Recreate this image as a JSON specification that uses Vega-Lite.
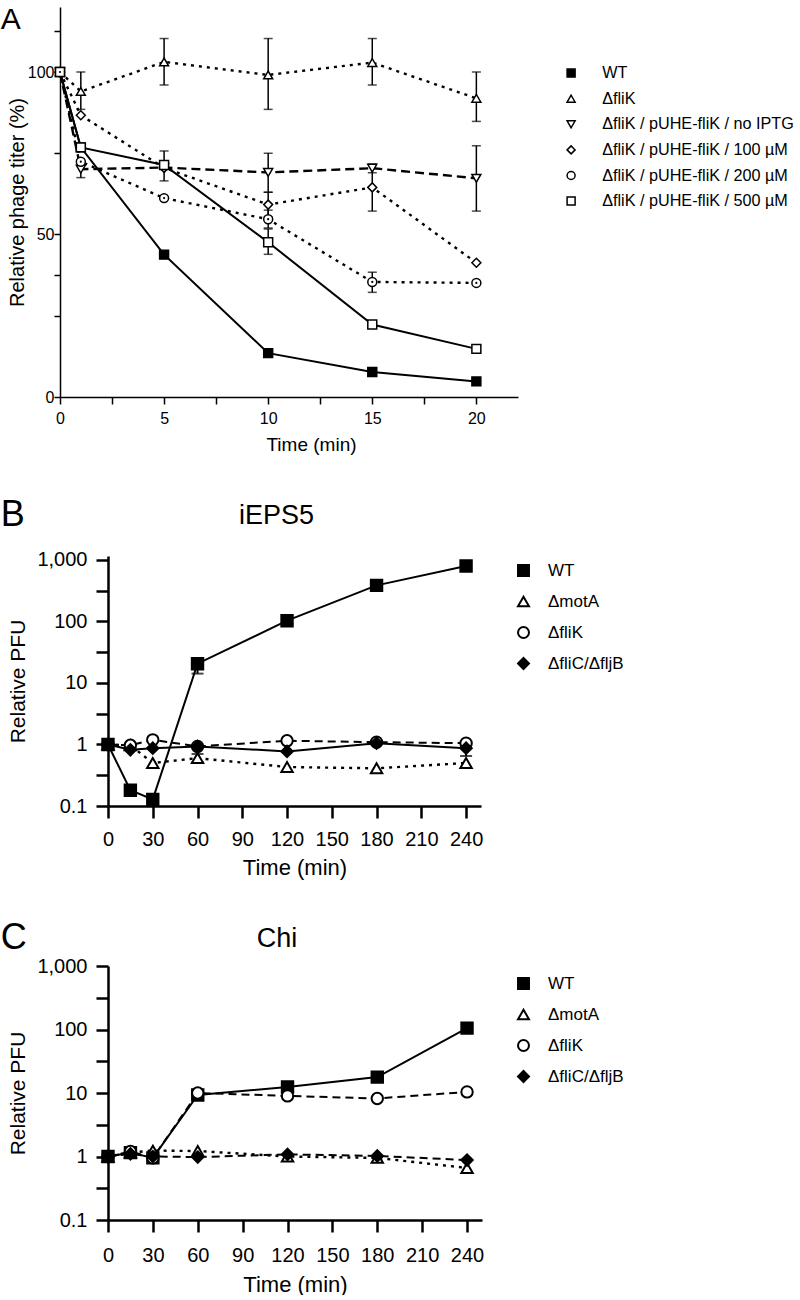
{
  "$schema": "https://vega.github.io/schema/vega-lite/v6.json",
  "padding": {"left": 0, "top": 4, "right": 250, "bottom": 0},
  "spacing": 42,
  "config": {
    "font": "Liberation Sans",
    "view": {"stroke": null},
    "axis": {"grid": false, "domainColor": "#000", "tickColor": "#000", "labelColor": "#000", "titleColor": "#000", "titleFontWeight": "normal", "labelOverlap": false, "labelFlush": false},
    "legend": {"padding": 0, "labelColor": "#000"},
    "title": {"fontWeight": "normal", "color": "#000"}
  },
  "resolve": {
    "scale": {"x": "independent", "y": "independent", "shape": "independent", "fill": "independent", "stroke": "independent"},
    "legend": {"shape": "independent", "fill": "independent", "stroke": "independent"}
  },
  "datasets": {
    "A": [
      {"s": "WT", "t": 0, "v": 100}, {"s": "WT", "t": 1, "v": 76.8}, {"s": "WT", "t": 5, "v": 43.8}, {"s": "WT", "t": 10, "v": 13.5}, {"s": "WT", "t": 15, "v": 7.7}, {"s": "WT", "t": 20, "v": 4.8},
      {"s": "ΔfliK", "t": 0, "v": 100}, {"s": "ΔfliK", "t": 1, "v": 94, "lo": 88.5, "hi": 100}, {"s": "ΔfliK", "t": 5, "v": 103.1, "lo": 96, "hi": 110.3}, {"s": "ΔfliK", "t": 10, "v": 99.1, "lo": 88.5, "hi": 110.3}, {"s": "ΔfliK", "t": 15, "v": 102.9, "lo": 96, "hi": 110.3}, {"s": "ΔfliK", "t": 20, "v": 91.9, "lo": 84.8, "hi": 100},
      {"s": "ΔfliK / pUHE-fliK / no IPTG", "t": 0, "v": 100}, {"s": "ΔfliK / pUHE-fliK / no IPTG", "t": 1, "v": 70.1, "lo": 67.5, "hi": 72.5}, {"s": "ΔfliK / pUHE-fliK / no IPTG", "t": 5, "v": 70.6, "lo": 66.5, "hi": 75.7}, {"s": "ΔfliK / pUHE-fliK / no IPTG", "t": 10, "v": 69.1, "lo": 63, "hi": 75}, {"s": "ΔfliK / pUHE-fliK / no IPTG", "t": 15, "v": 70.4, "lo": 69, "hi": 71.6}, {"s": "ΔfliK / pUHE-fliK / no IPTG", "t": 20, "v": 67.3, "lo": 57.2, "hi": 77.3},
      {"s": "ΔfliK / pUHE-fliK / 100 µM", "t": 0, "v": 100}, {"s": "ΔfliK / pUHE-fliK / 100 µM", "t": 1, "v": 86.7}, {"s": "ΔfliK / pUHE-fliK / 100 µM", "t": 5, "v": 70.5}, {"s": "ΔfliK / pUHE-fliK / 100 µM", "t": 10, "v": 59.2, "lo": 55.4, "hi": 63}, {"s": "ΔfliK / pUHE-fliK / 100 µM", "t": 15, "v": 64.5, "lo": 57.2, "hi": 71.6}, {"s": "ΔfliK / pUHE-fliK / 100 µM", "t": 20, "v": 41.3},
      {"s": "ΔfliK / pUHE-fliK / 200 µM", "t": 0, "v": 100}, {"s": "ΔfliK / pUHE-fliK / 200 µM", "t": 1, "v": 72.4}, {"s": "ΔfliK / pUHE-fliK / 200 µM", "t": 5, "v": 61.2}, {"s": "ΔfliK / pUHE-fliK / 200 µM", "t": 10, "v": 54.7, "lo": 52, "hi": 57.5}, {"s": "ΔfliK / pUHE-fliK / 200 µM", "t": 15, "v": 35.4, "lo": 32.2, "hi": 38.4}, {"s": "ΔfliK / pUHE-fliK / 200 µM", "t": 20, "v": 35.1},
      {"s": "ΔfliK / pUHE-fliK / 500 µM", "t": 0, "v": 100}, {"s": "ΔfliK / pUHE-fliK / 500 µM", "t": 1, "v": 76.8}, {"s": "ΔfliK / pUHE-fliK / 500 µM", "t": 5, "v": 71.4}, {"s": "ΔfliK / pUHE-fliK / 500 µM", "t": 10, "v": 47.6, "lo": 43.9, "hi": 51.7}, {"s": "ΔfliK / pUHE-fliK / 500 µM", "t": 15, "v": 22.3}, {"s": "ΔfliK / pUHE-fliK / 500 µM", "t": 20, "v": 14.8}
    ],
    "B": [
      {"s": "WT", "t": 0, "v": 1}, {"s": "WT", "t": 15, "v": 0.18}, {"s": "WT", "t": 30, "v": 0.128}, {"s": "WT", "t": 60, "v": 20.6, "lo": 14.2, "hi": 25}, {"s": "WT", "t": 120, "v": 103}, {"s": "WT", "t": 180, "v": 386, "lo": 340, "hi": 430}, {"s": "WT", "t": 240, "v": 800},
      {"s": "ΔmotA", "t": 0, "v": 1}, {"s": "ΔmotA", "t": 15, "v": 0.97}, {"s": "ΔmotA", "t": 30, "v": 0.5}, {"s": "ΔmotA", "t": 60, "v": 0.6, "lo": 0.52, "hi": 0.7}, {"s": "ΔmotA", "t": 120, "v": 0.43}, {"s": "ΔmotA", "t": 180, "v": 0.41}, {"s": "ΔmotA", "t": 240, "v": 0.5},
      {"s": "ΔfliK", "t": 0, "v": 1}, {"s": "ΔfliK", "t": 15, "v": 0.97}, {"s": "ΔfliK", "t": 30, "v": 1.19}, {"s": "ΔfliK", "t": 60, "v": 0.93}, {"s": "ΔfliK", "t": 120, "v": 1.15}, {"s": "ΔfliK", "t": 180, "v": 1.09}, {"s": "ΔfliK", "t": 240, "v": 1.05},
      {"s": "ΔfliC/ΔfljB", "t": 0, "v": 1}, {"s": "ΔfliC/ΔfljB", "t": 15, "v": 0.82}, {"s": "ΔfliC/ΔfljB", "t": 30, "v": 0.87}, {"s": "ΔfliC/ΔfljB", "t": 60, "v": 0.93}, {"s": "ΔfliC/ΔfljB", "t": 120, "v": 0.77}, {"s": "ΔfliC/ΔfljB", "t": 180, "v": 1.05}, {"s": "ΔfliC/ΔfljB", "t": 240, "v": 0.87, "lo": 0.65, "hi": 1.0}
    ],
    "C": [
      {"s": "WT", "t": 0, "v": 1}, {"s": "WT", "t": 15, "v": 1.15}, {"s": "WT", "t": 30, "v": 0.95}, {"s": "WT", "t": 60, "v": 9.3}, {"s": "WT", "t": 120, "v": 12.4}, {"s": "WT", "t": 180, "v": 17.8}, {"s": "WT", "t": 240, "v": 105},
      {"s": "ΔmotA", "t": 0, "v": 1}, {"s": "ΔmotA", "t": 15, "v": 1.15}, {"s": "ΔmotA", "t": 30, "v": 1.24}, {"s": "ΔmotA", "t": 60, "v": 1.22}, {"s": "ΔmotA", "t": 120, "v": 1.0}, {"s": "ΔmotA", "t": 180, "v": 0.95}, {"s": "ΔmotA", "t": 240, "v": 0.66},
      {"s": "ΔfliK", "t": 0, "v": 1}, {"s": "ΔfliK", "t": 15, "v": 1.2}, {"s": "ΔfliK", "t": 30, "v": 0.95}, {"s": "ΔfliK", "t": 60, "v": 10}, {"s": "ΔfliK", "t": 120, "v": 9.0}, {"s": "ΔfliK", "t": 180, "v": 8.2}, {"s": "ΔfliK", "t": 240, "v": 10.4},
      {"s": "ΔfliC/ΔfljB", "t": 0, "v": 1}, {"s": "ΔfliC/ΔfljB", "t": 15, "v": 1.1}, {"s": "ΔfliC/ΔfljB", "t": 30, "v": 1.0}, {"s": "ΔfliC/ΔfljB", "t": 60, "v": 0.98}, {"s": "ΔfliC/ΔfljB", "t": 120, "v": 1.08}, {"s": "ΔfliC/ΔfljB", "t": 180, "v": 1.02}, {"s": "ΔfliC/ΔfljB", "t": 240, "v": 0.88}
    ]
  },
  "vconcat": [
    {
      "title": {"text": "A", "anchor": "start", "frame": "bounds", "fontSize": 30, "offset": 0, "dy": 30},
      "spacing": 0,
      "resolve": {"scale": {"shape": "independent", "fill": "independent", "stroke": "independent"}, "legend": {"shape": "independent", "fill": "independent", "stroke": "independent"}},
      "hconcat": [
        {"width": 1, "height": 1, "data": {"values": [{"spacer": 1}]}, "mark": {"type": "point", "opacity": 0}},
        {
          "width": 458,
          "height": 390,
          "data": {"name": "A"},
          "encoding": {
            "x": {"field": "t", "type": "quantitative", "scale": {"domain": [0, 22], "nice": false},
              "axis": {"values": [0, 2.5, 5, 7.5, 10, 12.5, 15, 17.5, 20], "labelExpr": "datum.value % 5 === 0 ? datum.label : ''", "title": "Time (min)", "titleX": 251, "tickSize": 7, "labelFontSize": 16, "titleFontSize": 19, "labelPadding": 6, "titlePadding": 9, "domainWidth": 1.5, "tickWidth": 1.5}},
            "y": {"field": "v", "type": "quantitative", "scale": {"domain": [0, 120], "nice": false},
              "axis": {"values": [0, 25, 37.5, 50, 75, 100, 112.5], "labelExpr": "datum.value % 50 === 0 ? datum.label : ''", "title": "Relative phage titer (%)", "tickSize": 6, "labelFontSize": 16, "titleFontSize": 20, "labelPadding": 0, "titlePadding": 0, "domainWidth": 1.5, "tickWidth": 1.5}}
          },
          "layer": [
            {
              "transform": [{"filter": {"field": "s", "oneOf": ["WT", "ΔfliK / pUHE-fliK / 500 µM"]}}],
              "mark": {"type": "line", "color": "black", "strokeWidth": 2},
              "encoding": {"detail": {"field": "s", "type": "nominal"}}
            },
            {
              "transform": [{"filter": {"field": "s", "oneOf": ["ΔfliK", "ΔfliK / pUHE-fliK / 100 µM", "ΔfliK / pUHE-fliK / 200 µM"]}}],
              "mark": {"type": "line", "color": "black", "strokeWidth": 2.4, "strokeDash": [3, 5]},
              "encoding": {"detail": {"field": "s", "type": "nominal"}}
            },
            {
              "transform": [{"filter": {"field": "s", "oneOf": ["ΔfliK / pUHE-fliK / no IPTG"]}}],
              "mark": {"type": "line", "color": "black", "strokeWidth": 2.4, "strokeDash": [9, 5]},
              "encoding": {"detail": {"field": "s", "type": "nominal"}}
            },
            {
              "transform": [{"filter": "isValid(datum.lo)"}],
              "mark": {"type": "errorbar", "color": "black", "thickness": 1.5, "ticks": {"size": 9, "thickness": 1.5, "color": "black"}},
              "encoding": {
                "y": {"field": "lo", "type": "quantitative", "title": "Relative phage titer (%)"},
                "y2": {"field": "hi"}
              }
            },
            {
              "mark": {"type": "point", "filled": true, "opacity": 1, "strokeWidth": 1.5, "size": 80},
              "encoding": {
                "shape": {"field": "s", "type": "nominal",
                  "scale": {"domain": ["WT", "ΔfliK", "ΔfliK / pUHE-fliK / no IPTG", "ΔfliK / pUHE-fliK / 100 µM", "ΔfliK / pUHE-fliK / 200 µM", "ΔfliK / pUHE-fliK / 500 µM"],
                    "range": ["square", "triangle-up", "triangle-down", "diamond", "circle", "square"]},
                  "legend": {"title": null, "orient": "none", "legendX": 503, "legendY": 58, "labelFontSize": 16.2, "symbolSize": 64, "symbolStrokeWidth": 1.5, "rowPadding": 8.6, "labelOffset": 23, "labelLimit": 400,
                    "encode": {"symbols": {"stroke": {"value": "black"}, "strokeWidth": {"value": 1.5}}}}},
                "fill": {"field": "s", "type": "nominal",
                  "scale": {"domain": ["WT", "ΔfliK", "ΔfliK / pUHE-fliK / no IPTG", "ΔfliK / pUHE-fliK / 100 µM", "ΔfliK / pUHE-fliK / 200 µM", "ΔfliK / pUHE-fliK / 500 µM"],
                    "range": ["black", "white", "white", "white", "white", "white"]},
                  "legend": {"title": null, "orient": "none", "legendX": 503, "legendY": 58, "labelFontSize": 16.2, "symbolSize": 64, "symbolStrokeWidth": 1.5, "rowPadding": 8.6, "labelOffset": 23, "labelLimit": 400,
                    "encode": {"symbols": {"stroke": {"value": "black"}, "strokeWidth": {"value": 1.5}}}}},
                "stroke": {"field": "s", "type": "nominal",
                  "scale": {"domain": ["WT", "ΔfliK", "ΔfliK / pUHE-fliK / no IPTG", "ΔfliK / pUHE-fliK / 100 µM", "ΔfliK / pUHE-fliK / 200 µM", "ΔfliK / pUHE-fliK / 500 µM"],
                    "range": ["black", "black", "black", "black", "black", "black"]},
                  "legend": {"title": null, "orient": "none", "legendX": 503, "legendY": 58, "labelFontSize": 16.2, "symbolSize": 64, "symbolStrokeWidth": 1.5, "rowPadding": 8.6, "labelOffset": 23, "labelLimit": 400,
                    "encode": {"symbols": {"stroke": {"value": "black"}, "strokeWidth": {"value": 1.5}}}}}
              }
            },
            {
              "transform": [{"filter": "datum.s === 'ΔfliK / pUHE-fliK / 200 µM'"}],
              "mark": {"type": "point", "filled": true, "color": "black", "opacity": 1, "size": 5}
            }
          ]
        }
      ]
    },
    {
      "title": {"text": "B", "anchor": "start", "frame": "bounds", "fontSize": 36, "offset": 0, "dy": 32},
      "spacing": 0,
      "resolve": {"scale": {"shape": "independent", "fill": "independent", "stroke": "independent"}, "legend": {"shape": "independent", "fill": "independent", "stroke": "independent"}},
      "hconcat": [
        {"width": 1, "height": 1, "data": {"values": [{"spacer": 1}]}, "mark": {"type": "point", "opacity": 0}},
        {
          "title": {"text": "iEPS5", "fontSize": 27, "anchor": "middle", "frame": "group", "offset": 20, "dx": -18},
          "width": 373,
          "height": 250,
          "data": {"name": "B"},
          "encoding": {
            "x": {"field": "t", "type": "quantitative", "scale": {"domain": [0, 250], "nice": false},
              "axis": {"values": [0, 30, 60, 90, 120, 150, 180, 210, 240], "title": "Time (min)", "tickSize": 12, "labelFontSize": 20, "titleFontSize": 22, "labelPadding": 11, "titlePadding": 8, "domainWidth": 2.5, "tickWidth": 2.5}},
            "y": {"field": "v", "type": "quantitative", "scale": {"type": "log", "domain": [0.1, 1160], "nice": false},
              "axis": {"values": [0.1, 0.3162, 1, 3.162, 10, 31.62, 100, 316.2, 1000], "format": ",", "labelExpr": "(datum.value == 0.1 || datum.value == 1 || datum.value == 10 || datum.value == 100 || datum.value == 1000) ? datum.label : ''", "title": "Relative PFU", "tickSize": 12, "labelFontSize": 20, "titleFontSize": 21, "labelPadding": 9, "titlePadding": 8, "domainWidth": 2.5, "tickWidth": 2.5}}
          },
          "layer": [
            {
              "transform": [{"filter": {"field": "s", "oneOf": ["WT", "ΔfliC/ΔfljB"]}}],
              "mark": {"type": "line", "color": "black", "strokeWidth": 2},
              "encoding": {"detail": {"field": "s", "type": "nominal"}}
            },
            {
              "transform": [{"filter": {"field": "s", "oneOf": ["ΔmotA"]}}],
              "mark": {"type": "line", "color": "black", "strokeWidth": 2.4, "strokeDash": [3, 5]},
              "encoding": {"detail": {"field": "s", "type": "nominal"}}
            },
            {
              "transform": [{"filter": {"field": "s", "oneOf": ["ΔfliK"]}}],
              "mark": {"type": "line", "color": "black", "strokeWidth": 2, "strokeDash": [8, 5]},
              "encoding": {"detail": {"field": "s", "type": "nominal"}}
            },
            {
              "transform": [{"filter": "isValid(datum.lo)"}],
              "mark": {"type": "errorbar", "color": "black", "thickness": 2, "ticks": {"size": 12, "thickness": 2, "color": "black"}},
              "encoding": {
                "y": {"field": "lo", "type": "quantitative", "title": "Relative PFU"},
                "y2": {"field": "hi"}
              }
            },
            {
              "mark": {"type": "point", "filled": true, "opacity": 1, "strokeWidth": 2, "size": 130},
              "encoding": {
                "shape": {"field": "s", "type": "nominal",
                  "scale": {"domain": ["WT", "ΔmotA", "ΔfliK", "ΔfliC/ΔfljB"], "range": ["square", "triangle-up", "circle", "diamond"]},
                  "legend": {"title": null, "orient": "none", "legendX": 407, "legendY": 6, "labelFontSize": 17, "symbolSize": 120, "symbolStrokeWidth": 2, "rowPadding": 12, "labelOffset": 16,
                    "encode": {"symbols": {"stroke": {"value": "black"}, "strokeWidth": {"value": 2}}, "labels": {"fontStyle": {"value": {"expr": "datum.label === 'WT' ? 'normal' : 'italic'"}}}}}},
                "fill": {"field": "s", "type": "nominal",
                  "scale": {"domain": ["WT", "ΔmotA", "ΔfliK", "ΔfliC/ΔfljB"], "range": ["black", "white", "white", "black"]},
                  "legend": {"title": null, "orient": "none", "legendX": 407, "legendY": 6, "labelFontSize": 17, "symbolSize": 120, "symbolStrokeWidth": 2, "rowPadding": 12, "labelOffset": 16,
                    "encode": {"symbols": {"stroke": {"value": "black"}, "strokeWidth": {"value": 2}}, "labels": {"fontStyle": {"value": {"expr": "datum.label === 'WT' ? 'normal' : 'italic'"}}}}}},
                "stroke": {"field": "s", "type": "nominal",
                  "scale": {"domain": ["WT", "ΔmotA", "ΔfliK", "ΔfliC/ΔfljB"], "range": ["black", "black", "black", "black"]},
                  "legend": {"title": null, "orient": "none", "legendX": 407, "legendY": 6, "labelFontSize": 17, "symbolSize": 120, "symbolStrokeWidth": 2, "rowPadding": 12, "labelOffset": 16,
                    "encode": {"symbols": {"stroke": {"value": "black"}, "strokeWidth": {"value": 2}}, "labels": {"fontStyle": {"value": {"expr": "datum.label === 'WT' ? 'normal' : 'italic'"}}}}}}
              }
            }
          ]
        }
      ]
    },
    {
      "title": {"text": "C", "anchor": "start", "frame": "bounds", "fontSize": 36, "offset": 0, "dy": 32},
      "spacing": 0,
      "resolve": {"scale": {"shape": "independent", "fill": "independent", "stroke": "independent"}, "legend": {"shape": "independent", "fill": "independent", "stroke": "independent"}},
      "hconcat": [
        {"width": 1, "height": 1, "data": {"values": [{"spacer": 1}]}, "mark": {"type": "point", "opacity": 0}},
        {
          "title": {"text": "Chi", "fontSize": 27, "anchor": "middle", "frame": "group", "offset": 3, "dx": -18},
          "width": 374,
          "height": 254,
          "data": {"name": "C"},
          "encoding": {
            "x": {"field": "t", "type": "quantitative", "scale": {"domain": [0, 250], "nice": false},
              "axis": {"values": [0, 30, 60, 90, 120, 150, 180, 210, 240], "title": "Time (min)", "tickSize": 12, "labelFontSize": 20, "titleFontSize": 22, "labelPadding": 13, "titlePadding": 9, "domainWidth": 2.5, "tickWidth": 2.5}},
            "y": {"field": "v", "type": "quantitative", "scale": {"type": "log", "domain": [0.1, 1000], "nice": false},
              "axis": {"values": [0.1, 0.3162, 1, 3.162, 10, 31.62, 100, 316.2, 1000], "format": ",", "labelExpr": "(datum.value == 0.1 || datum.value == 1 || datum.value == 10 || datum.value == 100 || datum.value == 1000) ? datum.label : ''", "title": "Relative PFU", "tickSize": 12, "labelFontSize": 20, "titleFontSize": 21, "labelPadding": 9, "titlePadding": 8, "domainWidth": 2.5, "tickWidth": 2.5}}
          },
          "layer": [
            {
              "transform": [{"filter": {"field": "s", "oneOf": ["WT"]}}],
              "mark": {"type": "line", "color": "black", "strokeWidth": 2},
              "encoding": {"detail": {"field": "s", "type": "nominal"}}
            },
            {
              "transform": [{"filter": {"field": "s", "oneOf": ["ΔmotA"]}}],
              "mark": {"type": "line", "color": "black", "strokeWidth": 2.4, "strokeDash": [3, 5]},
              "encoding": {"detail": {"field": "s", "type": "nominal"}}
            },
            {
              "transform": [{"filter": {"field": "s", "oneOf": ["ΔfliK", "ΔfliC/ΔfljB"]}}],
              "mark": {"type": "line", "color": "black", "strokeWidth": 2, "strokeDash": [8, 5]},
              "encoding": {"detail": {"field": "s", "type": "nominal"}}
            },
            {
              "mark": {"type": "point", "filled": true, "opacity": 1, "strokeWidth": 2, "size": 130},
              "encoding": {
                "shape": {"field": "s", "type": "nominal",
                  "scale": {"domain": ["WT", "ΔmotA", "ΔfliK", "ΔfliC/ΔfljB"], "range": ["square", "triangle-up", "circle", "diamond"]},
                  "legend": {"title": null, "orient": "none", "legendX": 407, "legendY": 9, "labelFontSize": 17, "symbolSize": 120, "symbolStrokeWidth": 2, "rowPadding": 12, "labelOffset": 16,
                    "encode": {"symbols": {"stroke": {"value": "black"}, "strokeWidth": {"value": 2}}, "labels": {"fontStyle": {"value": {"expr": "datum.label === 'WT' ? 'normal' : 'italic'"}}}}}},
                "fill": {"field": "s", "type": "nominal",
                  "scale": {"domain": ["WT", "ΔmotA", "ΔfliK", "ΔfliC/ΔfljB"], "range": ["black", "white", "white", "black"]},
                  "legend": {"title": null, "orient": "none", "legendX": 407, "legendY": 9, "labelFontSize": 17, "symbolSize": 120, "symbolStrokeWidth": 2, "rowPadding": 12, "labelOffset": 16,
                    "encode": {"symbols": {"stroke": {"value": "black"}, "strokeWidth": {"value": 2}}, "labels": {"fontStyle": {"value": {"expr": "datum.label === 'WT' ? 'normal' : 'italic'"}}}}}},
                "stroke": {"field": "s", "type": "nominal",
                  "scale": {"domain": ["WT", "ΔmotA", "ΔfliK", "ΔfliC/ΔfljB"], "range": ["black", "black", "black", "black"]},
                  "legend": {"title": null, "orient": "none", "legendX": 407, "legendY": 9, "labelFontSize": 17, "symbolSize": 120, "symbolStrokeWidth": 2, "rowPadding": 12, "labelOffset": 16,
                    "encode": {"symbols": {"stroke": {"value": "black"}, "strokeWidth": {"value": 2}}, "labels": {"fontStyle": {"value": {"expr": "datum.label === 'WT' ? 'normal' : 'italic'"}}}}}}
              }
            }
          ]
        }
      ]
    }
  ]
}
